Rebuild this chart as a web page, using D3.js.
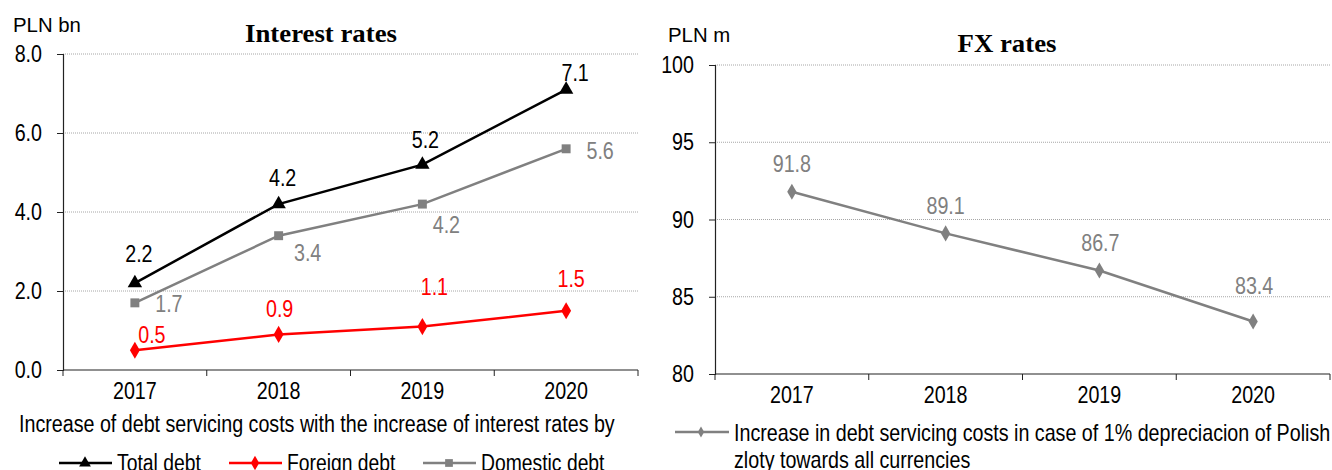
<!DOCTYPE html>
<html>
<head>
<meta charset="utf-8">
<script src="https://cdn.jsdelivr.net/npm/d3@7"></script>
<style>
  html, body { margin: 0; padding: 0; background: #fff; }
  svg { display: block; }
  .sans { font-family: "Liberation Sans", Arial, sans-serif; }
  .title { font-family: "Liberation Serif", "Times New Roman", serif; font-weight: bold; }
</style>
</head>
<body>
<svg id="chart" width="1332" height="470"></svg>
<script>
// Years shown on both panels
const years = ["2017", "2018", "2019", "2020"];

// Left panel: extra debt servicing cost when interest rates rise (PLN bn)
const totalDebt = [2.2, 4.2, 5.2, 7.1];
const foreignDebt = [0.5, 0.9, 1.1, 1.5];
const domesticDebt = [1.7, 3.4, 4.2, 5.6];
const leftTicks = [0, 2, 4, 6, 8];

// Right panel: extra cost of a 1% zloty depreciation (PLN m)
const fxCost = [91.8, 89.1, 86.7, 83.4];
const rightTicks = [80, 85, 90, 95, 100];

const svg = d3.select("#chart");
const NARROW = 0.82;   // width ratio of a narrow sans face
const FS = 24;         // axis and value label size

function panel(opt) {
  const g = svg.append("g");
  const x = d3.scaleBand().domain(years).range([opt.x0, opt.x1]);
  const y = d3.scaleLinear().domain(opt.domain).range([opt.y1, opt.y0]);

  // horizontal dotted gridlines
  g.selectAll(".grid").data(opt.ticks.filter(t => t !== opt.domain[0]))
    .enter().append("line")
    .attr("x1", opt.x0).attr("x2", opt.x1)
    .attr("y1", d => y(d)).attr("y2", d => y(d))
    .attr("stroke", "#a6a6a6").attr("stroke-width", 1)
    .attr("stroke-dasharray", "1,1");

  // y axis
  const ya = g.append("g").attr("transform", `translate(${opt.x0},0)`)
    .call(d3.axisLeft(y).tickValues(opt.ticks).tickFormat(opt.fmt).tickSize(6).tickPadding(15));
  ya.select(".domain").attr("stroke", "#222").attr("stroke-width", 1.2);
  ya.selectAll(".tick line").attr("stroke", "#222");
  ya.selectAll("text").attr("class", "sans").attr("data-k", NARROW)
    .attr("font-size", FS).attr("fill", "#000");

  // x axis with ticks between categories
  const xa = g.append("g").attr("transform", `translate(0,${opt.y1})`);
  xa.append("line").attr("x1", opt.x0).attr("x2", opt.x1).attr("y1", 0).attr("y2", 0)
    .attr("stroke", "#222").attr("stroke-width", 1.2);
  const bounds = years.map(d => x(d)).concat([opt.x1]);
  xa.selectAll(".xt").data(bounds).enter().append("line")
    .attr("x1", d => d).attr("x2", d => d).attr("y1", 0).attr("y2", 6)
    .attr("stroke", "#222");
  xa.selectAll(".xl").data(years).enter().append("text")
    .attr("class", "sans").attr("data-k", NARROW).attr("font-size", FS)
    .attr("x", d => x(d) + x.bandwidth() / 2).attr("y", 29)
    .attr("text-anchor", "middle").text(d => d);

  // unit label and title
  g.append("text").attr("class", "sans").attr("data-k", 0.97).attr("font-size", 21)
    .attr("x", opt.unitX).attr("y", opt.unitY).text(opt.unit);
  g.append("text").attr("class", "title").attr("data-k", 1.03).attr("font-size", 26)
    .attr("x", opt.titleX).attr("y", opt.titleY).attr("text-anchor", "middle").text(opt.title);

  return { g, x, y };
}

function symbolPath(type, size) {
  return d3.symbol().type(type).size(size)();
}

function series(p, values, color, symType, symSize, labelColor, offsets) {
  const cx = (d, i) => p.x(years[i]) + p.x.bandwidth() / 2;
  const line = d3.line().x(cx).y(d => p.y(d));
  p.g.append("path").datum(values).attr("d", line)
    .attr("fill", "none").attr("stroke", color).attr("stroke-width", 2.5);
  p.g.selectAll(null).data(values).enter().append("path")
    .attr("d", symbolPath(symType, symSize))
    .attr("transform", (d, i) => `translate(${cx(d, i)},${p.y(d)})`)
    .attr("fill", color);
  p.g.selectAll(null).data(values).enter().append("text")
    .attr("class", "sans").attr("data-k", NARROW).attr("font-size", FS).attr("fill", labelColor)
    .attr("text-anchor", "middle").attr("dominant-baseline", "central")
    .attr("x", (d, i) => cx(d, i) + offsets[i][0])
    .attr("y", (d, i) => p.y(d) + offsets[i][1])
    .text(d => d.toFixed(1));
}

// ---- left panel ----
const L = panel({
  x0: 63, x1: 638, y0: 54, y1: 370, domain: [0, 8], ticks: leftTicks,
  fmt: d3.format(".1f"), unit: "PLN bn", unitX: 13, unitY: 32,
  title: "Interest rates", titleX: 321, titleY: 42
});
series(L, domesticDebt, "#808080", d3.symbolSquare, 80, "#808080",
  [[34, 1], [29, 17], [24, 20], [34, 2]]);
series(L, totalDebt, "#000", d3.symbolTriangle, 90, "#000",
  [[4, -30], [4, -27], [3, -25], [9, -17]]);
series(L, foreignDebt, "#ff0000", d3.symbolDiamond, 85, "#ff0000",
  [[17, -16], [1, -26], [12, -40], [5, -32]]);

// ---- right panel ----
const R = panel({
  x0: 715, x1: 1330, y0: 65, y1: 374, domain: [80, 100], ticks: rightTicks,
  fmt: d3.format("d"), unit: "PLN m", unitX: 668, unitY: 42,
  title: "FX rates", titleX: 1007, titleY: 52
});
series(R, fxCost, "#808080", d3.symbolDiamond, 75, "#808080",
  [[0, -28], [0, -28], [1, -28], [1, -36]]);

// ---- legends ----
svg.append("text").attr("class", "sans").attr("data-k", 0.855).attr("font-size", 23)
  .attr("x", 19).attr("y", 432)
  .text("Increase of debt servicing costs with the increase of interest rates by");

const legendItems = [
  { label: "Total debt", color: "#000", sym: d3.symbolTriangle, size: 60, x: 59 },
  { label: "Foreign debt", color: "#ff0000", sym: d3.symbolDiamond, size: 60, x: 229 },
  { label: "Domestic debt", color: "#808080", sym: d3.symbolSquare, size: 60, x: 423 }
];
const lg = svg.selectAll(".lg").data(legendItems).enter().append("g")
  .attr("transform", d => `translate(${d.x},463)`);
lg.append("line").attr("x1", 0).attr("x2", 53).attr("stroke", d => d.color).attr("stroke-width", 2.5);
lg.append("path").attr("d", d => symbolPath(d.sym, d.size)).attr("transform", "translate(26,0)")
  .attr("fill", d => d.color);
lg.append("text").attr("class", "sans").attr("data-k", 0.84).attr("font-size", 23)
  .attr("x", 58).attr("y", 8).text(d => d.label);

const rl = svg.append("g").attr("transform", "translate(675,432)");
rl.append("line").attr("x1", 0).attr("x2", 54).attr("stroke", "#808080").attr("stroke-width", 2.5);
rl.append("path").attr("d", symbolPath(d3.symbolDiamond, 35)).attr("transform", "translate(26,0)")
  .attr("fill", "#808080");
rl.append("text").attr("class", "sans").attr("data-k", NARROW).attr("font-size", 24)
  .attr("x", 59).attr("y", 9)
  .text("Increase in debt servicing costs in case of 1% depreciacion of Polish");
rl.append("text").attr("class", "sans").attr("data-k", NARROW).attr("font-size", 24)
  .attr("x", 59).attr("y", 36)
  .text("zloty towards all currencies");

// Rescale glyph widths so the regular faces read as the narrow/wide ones intended
svg.selectAll("text[data-k]").each(function () {
  const k = +this.getAttribute("data-k");
  const w = this.getComputedTextLength();
  d3.select(this).attr("textLength", w * k).attr("lengthAdjust", "spacingAndGlyphs");
});
</script>
</body>
</html>
